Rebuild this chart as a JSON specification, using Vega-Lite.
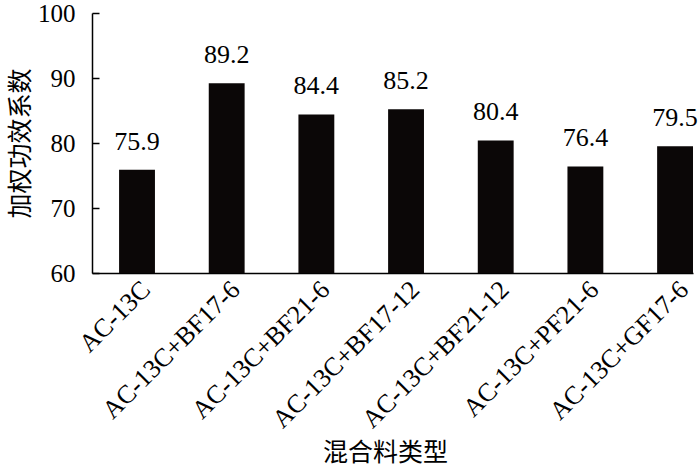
{
  "$schema": "https://vega.github.io/schema/vega-lite/v6.json",
  "width": 601,
  "height": 260,
  "autosize": "none",
  "padding": {"left": 92, "top": 13, "right": 7, "bottom": 201},
  "background": "white",
  "config": {"view": {"stroke": null}, "font": "Liberation Serif"},
  "data": {"values": [
    {"type": "AC-13C", "value": 75.9},
    {"type": "AC-13C+BF17-6", "value": 89.2},
    {"type": "AC-13C+BF21-6", "value": 84.4},
    {"type": "AC-13C+BF17-12", "value": 85.2},
    {"type": "AC-13C+BF21-12", "value": 80.4},
    {"type": "AC-13C+PF21-6", "value": 76.4},
    {"type": "AC-13C+GF17-6", "value": 79.5}
  ]},
  "encoding": {
    "x": {
      "field": "type", "type": "nominal", "sort": null,
      "scale": {"paddingInner": 0.6, "paddingOuter": 0.151, "align": 1},
      "axis": {
        "title": "混合料类型",
        "titleFont": "Noto Sans CJK SC", "titleFontSize": 25, "titleFontWeight": "normal", "titleColor": "#000",
        "titlePadding": 8, "titleX": 293,
        "labelFont": "Liberation Serif", "labelFontSize": 26, "labelColor": "#000",
        "labelAngle": -45, "labelPadding": 3, "labelLimit": 400,
        "ticks": false, "domainColor": "#000", "domainWidth": 1.5, "labelOverlap": false
      }
    },
    "y": {
      "field": "value", "type": "quantitative",
      "scale": {"domain": [60, 100], "nice": false, "zero": false},
      "axis": {
        "title": "加权功效系数",
        "titleFont": "Noto Sans CJK SC", "titleFontSize": 25, "titleFontWeight": "normal", "titleColor": "#000",
        "titlePadding": 4,
        "values": [60, 70, 80, 90, 100],
        "labelFont": "Liberation Serif", "labelFontSize": 25, "labelColor": "#000",
        "tickSize": -7, "tickColor": "#000", "tickWidth": 1.5, "labelPadding": 24,
        "domainColor": "#000", "domainWidth": 1.5, "grid": false
      }
    }
  },
  "layer": [
    {"mark": {"type": "bar", "color": "#0b0707"}, "encoding": {"y2": {"datum": 60}}},
    {"mark": {"type": "text", "font": "Liberation Serif", "fontSize": 26, "baseline": "alphabetic", "dy": -20, "color": "#000"},
     "encoding": {"text": {"field": "value", "type": "quantitative", "format": ".1f"}}}
  ]
}
